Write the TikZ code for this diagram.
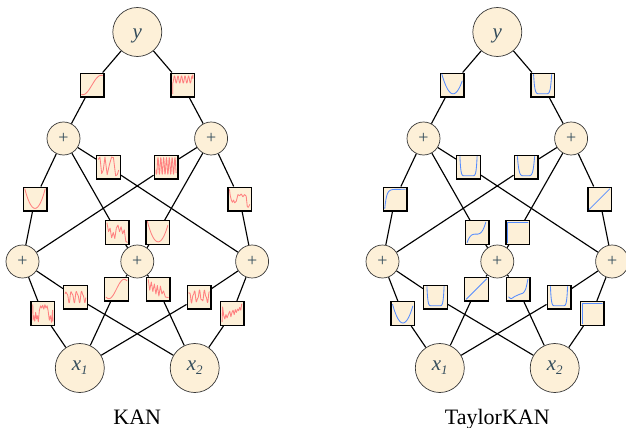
\documentclass[tikz,border=0pt]{standalone}
\usepackage{fontspec}
\setmainfont{Liberation Serif}
\usetikzlibrary{backgrounds}
\definecolor{cream}{RGB}{253,240,216}
\definecolor{txt}{RGB}{50,75,90}
\definecolor{kred}{RGB}{255,128,128}
\definecolor{kblue}{RGB}{85,140,255}
\definecolor{rim}{RGB}{55,55,55}
\tikzset{
 neuron/.style={circle, draw=rim, line width=0.7pt, fill=cream, minimum size=33pt, inner sep=0pt, text=txt, font=\fontsize{18}{18}\selectfont},
 bigneuron/.style={neuron, minimum size=49pt, font=\fontsize{21}{21}\selectfont\itshape},
 kbox/.style={draw=black, line width=1.4pt, fill=cream, minimum size=23.6pt, inner sep=0pt},
 edge/.style={line width=1.15pt, black},
 kcurve/.style={line width=0.85pt, line join=round, line cap=round},
 title/.style={font=\fontsize{22}{22}\selectfont, anchor=base, inner sep=0pt},
}
\newcommand\xlab[1]{x\raisebox{-4pt}{\fontsize{13}{13}\selectfont #1}}
\newcommand\kannet[3]{%
\begin{scope}[xshift=#2pt]
 \node[bigneuron, text height=14pt, text depth=2pt] (#1y) at (137.3,32) {y};
 \node[neuron] (#1a1) at (63.5,138.5) {+};
 \node[neuron] (#1a2) at (211.1,138.5) {+};
 \node[neuron] (#1b1) at (22.5,261.5) {+};
 \node[neuron] (#1b2) at (137.3,261.5) {+};
 \node[neuron] (#1b3) at (252.1,261.5) {+};
 \node[bigneuron] (#1x1) at (79.8,368) {\xlab{1}};
 \node[bigneuron] (#1x2) at (194.7,368) {\xlab{2}};
 \node[kbox] (#1t1) at (92,85) {};
 \node[kbox] (#1t2) at (182.6,85) {};
 \node[kbox] (#1e11) at (35,199) {};
 \node[kbox] (#1e33) at (239.6,199) {};
 \node[kbox] (#1e31) at (108.5,167) {};
 \node[kbox] (#1e13) at (166,167) {};
 \node[kbox] (#1e21) at (117,232.5) {};
 \node[kbox] (#1e22) at (157.6,232.5) {};
 \node[kbox] (#1i11) at (42.7,313.5) {};
 \node[kbox] (#1i23) at (232,313.5) {};
 \node[kbox] (#1i21) at (75.5,297) {};
 \node[kbox] (#1i13) at (199,297) {};
 \node[kbox] (#1i12) at (116.5,289) {};
 \node[kbox] (#1i22) at (158,289) {};
 \node[title] (#1title) at (137.3,424) {#3};
\end{scope}
\begin{scope}[on background layer]
 \draw[edge] (#1y) -- (#1t1) -- (#1a1);
 \draw[edge] (#1y) -- (#1t2) -- (#1a2);
 \draw[edge] (#1a1) -- (#1e11) -- (#1b1);
 \draw[edge] (#1a1) -- (#1e31) -- (#1b3);
 \draw[edge] (#1a1) -- (#1e21) -- (#1b2);
 \draw[edge] (#1a2) -- (#1e13) -- (#1b1);
 \draw[edge] (#1a2) -- (#1e22) -- (#1b2);
 \draw[edge] (#1a2) -- (#1e33) -- (#1b3);
 \draw[edge] (#1b1) -- (#1i11) -- (#1x1);
 \draw[edge] (#1b1) -- (#1i21) -- (#1x2);
 \draw[edge] (#1b2) -- (#1i12) -- (#1x1);
 \draw[edge] (#1b2) -- (#1i22) -- (#1x2);
 \draw[edge] (#1b3) -- (#1i13) -- (#1x1);
 \draw[edge] (#1b3) -- (#1i23) -- (#1x2);
\end{scope}}
\newcommand\boxcurve[3]{%
 \begin{scope}[shift={(#1.center)}, x=11pt, y=11pt]
 \clip (-1.02,-1.02) rectangle (1.02,1.02);
 \draw[kcurve, #2] #3;
 \end{scope}}
\begin{document}
\begin{tikzpicture}[x=1pt,y=-1pt]
\useasboundingbox (0,0) rectangle (626,428);
\clip (0,0) rectangle (626,428);
\kannet{L}{0}{KAN}
\kannet{R}{360}{TaylorKAN}
% ---- KAN curves (red)
\boxcurve{Lt1}{kred}{plot[domain=-0.95:0.95,samples=50] (\x,{0.88*sin(108*\x)})}
\boxcurve{Lt2}{kred}{(-0.9,-0.8) -- plot[domain=-0.9:0.93,samples=160] (\x,{0.5+0.32*sin(1125*\x+200)}) -- (0.93,0.92)}
\boxcurve{Le31}{kred}{plot coordinates {(-0.92,0.7) (-0.78,0.9) (-0.62,-0.6) (-0.48,-0.3) (-0.32,0.9) (-0.12,-0.7) (0.08,0.2) (0.28,0.9) (0.45,0.85) (0.65,-0.8) (0.8,-0.7) (0.92,-0.3)}}
\boxcurve{Le13}{kred}{(-0.9,-0.6) -- plot[domain=-0.9:0.92,samples=200] (\x,{0.1+0.75*sin(1400*\x+30)})}
\boxcurve{Le11}{kred}{plot[domain=-0.93:0.93,samples=40] (\x,{-0.85+1.75*(\x/0.92)*(\x/0.92)})}
\boxcurve{Le33}{kred}{plot coordinates {(-0.92,0.85) (-0.85,0.3) (-0.75,-0.1) (-0.65,-0.3) (-0.55,-0.1) (-0.45,-0.35) (-0.3,-0.2) (-0.15,0.4) (0,0.3) (0.15,0.45) (0.3,0.2) (0.45,0.4) (0.6,0.25) (0.7,-0.7) (0.8,-0.75) (0.92,-0.5)}}
\boxcurve{Le21}{kred}{plot coordinates {(-0.91,0.87) (-0.77,0.07) (-0.63,0.4) (-0.49,-0.47) (-0.34,0) (-0.2,-0.55) (-0.06,0.4) (0.09,0.68) (0.23,0.07) (0.37,0.52) (0.51,-0.12) (0.66,0.25) (0.8,-0.8) (0.94,-0.9)}}
\boxcurve{Le22}{kred}{plot[domain=-0.93:0.93,samples=40] (\x,{-0.85+1.75*((\x-0.05)/0.95)*((\x-0.05)/0.95)})}
\boxcurve{Li21}{kred}{plot[domain=-0.93:0.93,samples=150] (\x,{0.05+0.45*sin(760*\x)+0.15*sin(1500*\x+40)})}
\boxcurve{Li12}{kred}{plot[domain=-0.95:0.95,samples=50] (\x,{0.88*sin(130*\x)})}
\boxcurve{Li22}{kred}{plot coordinates {(-0.89,0.86) (-0.75,-0.1) (-0.61,0.64) (-0.47,-0.23) (-0.33,0.45) (-0.19,-0.45) (-0.06,0.32) (0.08,-0.64) (0.22,0.26) (0.36,-0.45) (0.5,-0.18) (0.67,-0.73) (0.94,-0.78)}}
\boxcurve{Li13}{kred}{plot[domain=-0.93:0.93,samples=150] (\x,{0.05+0.45*sin(760*\x+60)+0.15*sin(1700*\x)})}
\boxcurve{Li11}{kred}{plot coordinates {(-0.9,0.8) (-0.88,-0.6) (-0.8,-0.2) (-0.72,-0.7) (-0.64,0.1) (-0.56,-0.5) (-0.48,-0.2) (-0.4,-0.75) (-0.3,0.3) (-0.2,0.7) (-0.1,0.5) (0,0.75) (0.1,0.4) (0.2,0.8) (0.3,0.5) (0.4,0.7) (0.5,0.2) (0.6,-0.6) (0.7,-0.2) (0.8,-0.8) (0.9,0.3) (0.93,-0.7)}}
\boxcurve{Li23}{kred}{plot coordinates {(-0.9,-0.75) (-0.85,0.6) (-0.75,-0.2) (-0.65,-0.5) (-0.55,-0.1) (-0.45,-0.4) (-0.3,0) (-0.2,0.2) (-0.1,-0.3) (0,0.1) (0.1,0.3) (0.2,-0.1) (0.3,0.35) (0.4,0.1) (0.5,0.4) (0.6,0.25) (0.7,0.55) (0.8,0.3) (0.88,0.85)}}
% ---- TaylorKAN curves (blue)
\boxcurve{Rt1}{kblue}{plot[domain=-0.93:0.93,samples=40] (\x,{-0.8+1.7*(\x-0.1)*(\x-0.1)})}
\boxcurve{Rt2}{kblue}{plot[domain=-0.82:0.82,samples=80] (\x,{-0.8+1.75*((\x/0.82)*(\x/0.82))^4})}
\boxcurve{Re31}{kblue}{plot[domain=-0.78:0.78,samples=80] (\x,{-0.8+1.75*((\x/0.78)*(\x/0.78))^5})}
\boxcurve{Re13}{kblue}{plot[domain=-0.78:0.78,samples=80] (\x,{-0.8+1.75*((\x/0.78)*(\x/0.78))^3})}
\boxcurve{Re11}{kblue}{plot[domain=-0.93:0.93,samples=60] (\x,{0.88-1.75*exp(-6*(\x+0.93))})}
\boxcurve{Re33}{kblue}{(-0.93,-0.93) -- (0.93,0.93)}
\boxcurve{Re21}{kblue}{plot[domain=-0.9:0.8,samples=60] (\x,{-0.15+1.5*(\x+0.1)*(\x+0.1)*(\x+0.1)})}
\boxcurve{Re22}{kblue}{(-0.9,-0.92) -- (-0.9,0.88) -- (0.93,0.88)}
\boxcurve{Ri21}{kblue}{plot[domain=-0.78:0.78,samples=80] (\x,{-0.8+1.75*((\x/0.78)*(\x/0.78))^5})}
\boxcurve{Ri12}{kblue}{(-0.93,-0.93) -- (0.93,0.93)}
\boxcurve{Ri22}{kblue}{plot[smooth] coordinates {(-0.85,-0.72) (-0.62,-0.88) (-0.3,-0.68) (0.15,-0.48) (0.45,-0.38) (0.68,-0.05) (0.8,0.4) (0.9,0.9)}}
\boxcurve{Ri13}{kblue}{plot[domain=-0.78:0.78,samples=80] (\x,{-0.8+1.75*((\x/0.78)*(\x/0.78))^5})}
\boxcurve{Ri11}{kblue}{plot[domain=-0.92:0.92,samples=40] (\x,{-0.86+1.9*(\x-0.02)*(\x-0.02)})}
\boxcurve{Ri23}{kblue}{(-0.9,-0.92) -- (-0.9,0.88) -- (0.93,0.88)}
\end{tikzpicture}
\end{document}
